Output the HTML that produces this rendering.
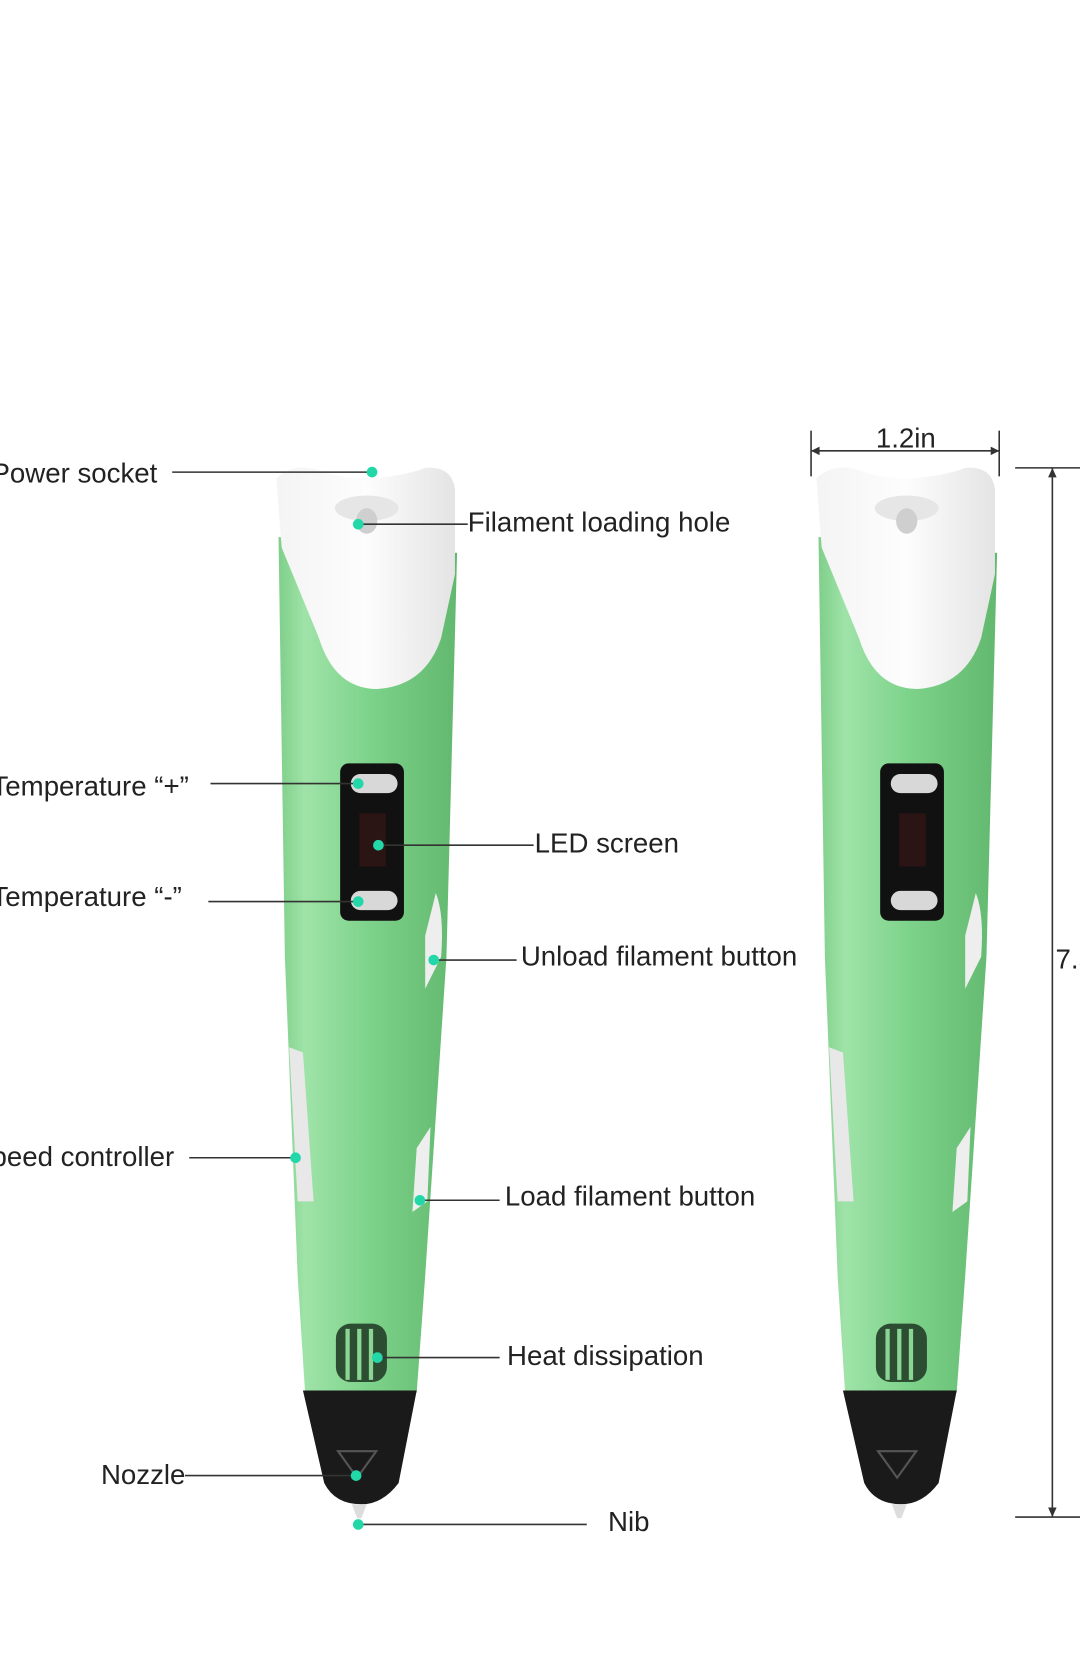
<!DOCTYPE html>
<html><head><meta charset="utf-8"><style>
html,body{margin:0;padding:0;background:#fff;}
svg{display:block;}
text{font-family:"Liberation Sans",sans-serif;font-size:26px;fill:#222;}
</style></head><body>
<svg width="1080" height="1666" viewBox="0 0 1016 1567" xmlns="http://www.w3.org/2000/svg">
<defs>
<linearGradient id="g" x1="0" x2="1" y1="0" y2="0">
<stop offset="0" stop-color="#7fcf8a"/><stop offset="0.15" stop-color="#9fe3a8"/><stop offset="0.5" stop-color="#7ed38b"/><stop offset="1" stop-color="#62b86e"/></linearGradient>
<linearGradient id="w" x1="0" x2="1"><stop offset="0" stop-color="#f4f4f4"/><stop offset="0.5" stop-color="#fdfdfd"/><stop offset="1" stop-color="#e4e4e4"/></linearGradient>
<g id="pen">
<path d="M262 505 L430 520 L420 900 L400 1200 L392 1310 L287 1310 L280 1200 L268 900 Z" fill="url(#g)"/>
<path d="M260 450 Q275 435 300 442 Q320 450 345 450 Q380 448 400 440 Q425 438 428 460 L428 540 L415 600 Q400 645 355 648 Q315 648 300 600 L265 515 Z" fill="url(#w)"/>
<ellipse cx="345" cy="478" rx="30" ry="12" fill="#e6e6e6"/>
<ellipse cx="345" cy="490" rx="10" ry="12" fill="#cfcfcf"/>
<rect x="320" y="718" width="60" height="148" rx="8" fill="#111"/>
<rect x="330" y="728" width="44" height="18" rx="9" fill="#d8d8d8"/>
<rect x="330" y="838" width="44" height="18" rx="9" fill="#d8d8d8"/>
<rect x="338" y="765" width="25" height="50" fill="#2a1414"/>
<path d="M410 840 Q418 860 415 900 L400 930 L400 880 Z" fill="#eee"/>
<path d="M272 985 L285 990 L295 1130 L280 1130 Z" fill="#e8e8e8"/>
<path d="M405 1060 L402 1130 L388 1140 L392 1080 Z" fill="#eee"/>
<rect x="316" y="1245" width="48" height="55" rx="14" fill="#2d4d33"/>
<g stroke="#8ad494" stroke-width="4"><line x1="327" y1="1250" x2="327" y2="1298"/><line x1="338" y1="1250" x2="338" y2="1298"/><line x1="349" y1="1250" x2="349" y2="1298"/></g>
<path d="M285 1308 L392 1308 L375 1395 Q360 1415 340 1415 Q315 1415 305 1395 Z" fill="#1a1a1a"/>
<path d="M318 1365 L354 1365 L336 1390 Z" fill="none" stroke="#555" stroke-width="2"/>
<path d="M331 1415 L345 1415 L340 1428 L336 1428 Z" fill="#ddd"/>
</g>
</defs>
<use href="#pen"/>
<use href="#pen" transform="translate(508,0)"/>
<g stroke="#333" stroke-width="1.5" fill="none">
<line x1="162" y1="444" x2="350" y2="444"/>
<line x1="337" y1="493" x2="440" y2="493"/>
<line x1="198" y1="737" x2="337" y2="737"/>
<line x1="356" y1="795" x2="502" y2="795"/>
<line x1="196" y1="848" x2="337" y2="848"/>
<line x1="408" y1="903" x2="486" y2="903"/>
<line x1="178" y1="1089" x2="278" y2="1089"/>
<line x1="395" y1="1129" x2="470" y2="1129"/>
<line x1="355" y1="1277" x2="470" y2="1277"/>
<line x1="174" y1="1388" x2="335" y2="1388"/>
<line x1="337" y1="1434" x2="552" y2="1434"/>
<line x1="763" y1="405" x2="763" y2="448"/><line x1="940" y1="405" x2="940" y2="448"/>
<line x1="763" y1="424" x2="940" y2="424"/>
<line x1="955" y1="440" x2="1016" y2="440"/><line x1="955" y1="1427" x2="1016" y2="1427"/>
<line x1="990" y1="440" x2="990" y2="1427"/>
</g>
<g fill="#333"><path d="M763 424 l8 -4 v8z"/><path d="M940 424 l-8 -4 v8z"/><path d="M990 440 l-4 9 h8z"/><path d="M990 1427 l-4 -9 h8z"/></g>
<g fill="#22d8a8">
<circle cx="350" cy="444" r="5"/><circle cx="337" cy="493" r="5"/><circle cx="337" cy="737" r="5"/><circle cx="356" cy="795" r="5"/><circle cx="337" cy="848" r="5"/><circle cx="408" cy="903" r="5"/><circle cx="278" cy="1089" r="5"/><circle cx="395" cy="1129" r="5"/><circle cx="355" cy="1277" r="5"/><circle cx="335" cy="1388" r="5"/><circle cx="337" cy="1434" r="5"/>
</g>
<text x="-8" y="454">Power socket</text>
<text x="440" y="500">Filament loading hole</text>
<text x="-8" y="748">Temperature “+”</text>
<text x="503" y="802">LED screen</text>
<text x="-8" y="852">Temperature “-”</text>
<text x="490" y="908">Unload filament button</text>
<text x="-8" y="1097">peed controller</text>
<text x="475" y="1134">Load filament button</text>
<text x="477" y="1284">Heat dissipation</text>
<text x="95" y="1396">Nozzle</text>
<text x="572" y="1440">Nib</text>
<text x="824" y="421" font-size="22">1.2in</text>
<text x="993" y="911" font-size="22">7.5</text>
</svg>
</body></html>
